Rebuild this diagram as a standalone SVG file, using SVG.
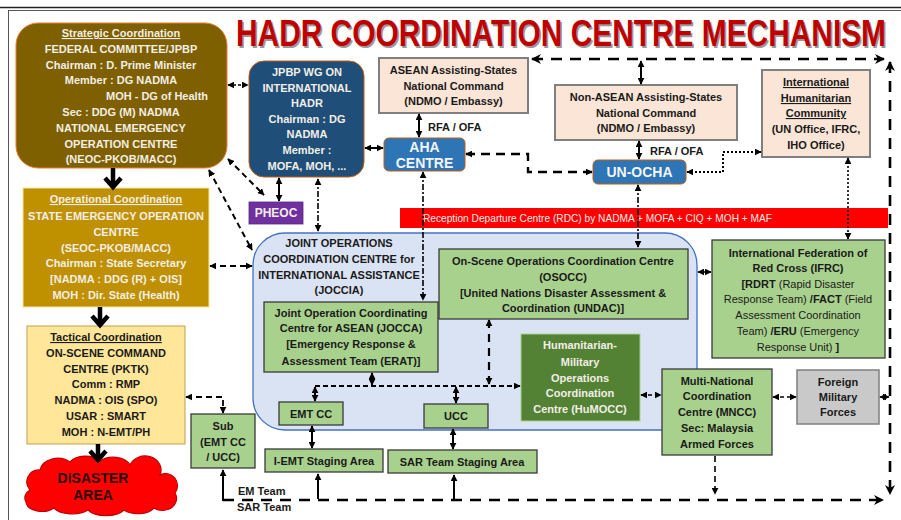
<svg xmlns="http://www.w3.org/2000/svg" width="901" height="520" viewBox="0 0 901 520">
<defs>
<style>
text{font-family:"Liberation Sans",Arial,sans-serif;font-weight:bold;font-size:11px;text-anchor:middle;fill:#1a1a1a}
.lt{fill:#F2EEE6}
.wb{fill:#F4F4F4;font-size:14px}
.u{text-decoration:underline}
.n{font-weight:normal}
.peach{fill:#FBE5D6;stroke:#7F7F7F;stroke-width:2}
.green{fill:#A9D18E;stroke:#3A3A3A;stroke-width:1.3}
.blue{fill:#2E75B6;stroke:#C55A11;stroke-width:1}
.c{fill:none;stroke:#000;stroke-width:2}
.d{stroke-dasharray:6 4}
.dd{stroke-dasharray:6 2 2 2;stroke-width:1.6}
.dt{stroke-dasharray:2 2;stroke-width:2}
.big{stroke-width:2.6;stroke-dasharray:11 8}
.thick{fill:none;stroke:#000;stroke-width:4.5}
</style>
<marker id="a" viewBox="0 0 10 10" refX="9" refY="5" markerWidth="7" markerHeight="7" markerUnits="userSpaceOnUse" orient="auto-start-reverse"><path d="M0,0 L10,5 L0,10 z" fill="#000"/></marker>
<marker id="b" viewBox="0 0 10 10" refX="9" refY="5" markerWidth="10" markerHeight="10" markerUnits="userSpaceOnUse" orient="auto-start-reverse"><path d="M0,0 L10,5 L0,10 L3,5 z" fill="#000"/></marker>
</defs>
<rect width="901" height="520" fill="#fff"/>
<line x1="0" y1="7.5" x2="901" y2="7.5" stroke="#222" stroke-width="1.5"/>
<rect x="8.5" y="10.5" width="900" height="520" fill="none" stroke="#555" stroke-width="1"/>

<g id="title">
<text transform="translate(237.5,47.5) scale(1,1.3)" x="0" y="0" style="font-size:28px;text-anchor:start;fill:#9a9a9a" textLength="650" lengthAdjust="spacingAndGlyphs">HADR COORDINATION CENTRE MECHANISM</text>
<text transform="translate(236,46) scale(1,1.3)" x="0" y="0" style="font-size:28px;text-anchor:start;fill:#C00000" textLength="650" lengthAdjust="spacingAndGlyphs">HADR COORDINATION CENTRE MECHANISM</text>
</g>

<g id="rdc-banner">
<rect x="400" y="208" width="488" height="20" fill="#FF0000"/>
<text x="423" y="222" class="n" style="text-anchor:start;fill:#FDECEA" textLength="349" lengthAdjust="spacingAndGlyphs">Reception Departure Centre (RDC) by NADMA + MOFA + CIQ + MOH + MAF</text>
</g>

<g id="joccia">
<rect x="253" y="233" width="444" height="197" rx="32" fill="#DAE3F3" stroke="#4472C4" stroke-width="1.3"/>
<text x="339" y="247">JOINT OPERATIONS</text>
<text x="339" y="263">COORDINATION CENTRE for</text>
<text x="339" y="279">INTERNATIONAL ASSISTANCE</text>
<text x="339" y="294">(JOCCIA)</text>
</g>

<g id="strategic">
<rect x="16" y="23" width="211" height="145" rx="22" fill="#7F6000" stroke="#ED7D31" stroke-width="1"/>
<text x="121" y="37" class="lt u">Strategic Coordination</text>
<text x="121" y="53" class="lt">FEDERAL COMMITTEE/JPBP</text>
<text x="121" y="69" class="lt">Chairman : D. Prime Minister</text>
<text x="121" y="84" class="lt">Member : DG NADMA</text>
<text x="157" y="100" class="lt">MOH - DG of Health</text>
<text x="121" y="116" class="lt">Sec : DDG (M) NADMA</text>
<text x="121" y="132" class="lt">NATIONAL EMERGENCY</text>
<text x="121" y="148" class="lt">OPERATION CENTRE</text>
<text x="121" y="163" class="lt">(NEOC-PKOB/MACC)</text>
</g>

<g id="jpbp-wg">
<rect x="249" y="61" width="115" height="116" rx="15" fill="#1F4E79" stroke="#C55A11" stroke-width="1"/>
<text x="307" y="76" class="lt">JPBP WG ON</text>
<text x="307" y="92" class="lt">INTERNATIONAL</text>
<text x="307" y="107" class="lt">HADR</text>
<text x="307" y="123" class="lt">Chairman : DG</text>
<text x="307" y="138" class="lt">NADMA</text>
<text x="307" y="154" class="lt">Member :</text>
<text x="307" y="170" class="lt">MOFA, MOH, ...</text>
</g>

<g id="asean">
<rect x="379" y="58" width="149" height="55" class="peach"/>
<text x="453.5" y="74">ASEAN Assisting-States</text>
<text x="453.5" y="90">National Command</text>
<text x="453.5" y="105">(NDMO / Embassy)</text>
</g>

<g id="aha">
<rect x="384" y="138" width="81" height="33" rx="5" class="blue"/>
<text x="424.5" y="152" class="wb">AHA</text>
<text x="424.5" y="168" class="wb">CENTRE</text>
</g>

<g id="non-asean">
<rect x="555" y="85" width="182" height="55" class="peach"/>
<text x="646" y="101">Non-ASEAN Assisting-States</text>
<text x="646" y="117">National Command</text>
<text x="646" y="132">(NDMO / Embassy)</text>
</g>

<g id="un-ocha">
<rect x="593" y="160" width="93" height="24" rx="5" class="blue"/>
<text x="639.5" y="177" class="wb">UN-OCHA</text>
</g>

<g id="ihc">
<rect x="762" y="70" width="108" height="87" class="peach"/>
<text x="816" y="86" class="u">International</text>
<text x="816" y="102" class="u">Humanitarian</text>
<text x="816" y="117" class="u">Community</text>
<text x="816" y="133">(UN Office, IFRC,</text>
<text x="816" y="149">IHO Office)</text>
</g>

<g id="labels">
<text x="428" y="131" style="text-anchor:start">RFA / OFA</text>
<text x="650" y="155" style="text-anchor:start">RFA / OFA</text>
<text x="238" y="495" style="text-anchor:start">EM Team</text>
<text x="237" y="511" style="text-anchor:start">SAR Team</text>
</g>

<g id="pheoc">
<rect x="249" y="202" width="54" height="22" fill="#7030A0" stroke="#5a2a80" stroke-width="0.8"/>
<text x="276" y="217" class="lt" style="font-size:12px">PHEOC</text>
</g>

<g id="operational">
<rect x="23" y="188" width="186" height="119" fill="#BF9000" stroke="#FFE699" stroke-width="1"/>
<text x="116" y="203" class="lt u">Operational Coordination</text>
<text x="116" y="220" class="lt">STATE EMERGENCY OPERATION</text>
<text x="116" y="236" class="lt">CENTRE</text>
<text x="116" y="252" class="lt">(SEOC-PKOB/MACC)</text>
<text x="116" y="267" class="lt">Chairman : State Secretary</text>
<text x="116" y="283" class="lt">[NADMA : DDG (R) + OIS]</text>
<text x="116" y="299" class="lt">MOH : Dir. State (Health)</text>
</g>

<g id="tactical">
<rect x="27" y="326" width="158" height="118" fill="#FFE699" stroke="#BFA050" stroke-width="1"/>
<text x="106" y="341" class="u">Tactical Coordination</text>
<text x="106" y="357">ON-SCENE COMMAND</text>
<text x="106" y="373">CENTRE (PKTK)</text>
<text x="106" y="388">Comm : RMP</text>
<text x="106" y="404">NADMA : OIS (SPO)</text>
<text x="106" y="420">USAR : SMART</text>
<text x="106" y="436">MOH : N-EMT/PH</text>
</g>

<g id="disaster-area">
<path d="M30,490 A12,12 0 0 1 40,470 A18,14 0 0 1 70,462 A18,12 0 0 1 100,461 A18,12 0 0 1 130,465 A16,14 0 0 1 160,475 A12,12 0 0 1 175,493 A14,12 0 0 1 154,508 A18,10 0 0 1 124,510 A20,10 0 0 1 88,510 A20,10 0 0 1 54,508 A16,10 0 0 1 26,502 A10,9 0 0 1 30,490 Z" fill="#FF0000" stroke="#C00000" stroke-width="1.2"/>
<text x="93" y="483" style="font-size:14px;fill:#2a0000">DISASTER</text>
<text x="93" y="500" style="font-size:14px;fill:#2a0000">AREA</text>
</g>

<g id="sub">
<rect x="191" y="414" width="64" height="54" class="green"/>
<text x="223" y="430">Sub</text>
<text x="223" y="446">(EMT CC</text>
<text x="223" y="461">/ UCC)</text>
</g>

<g id="jocca">
<rect x="264" y="302" width="174" height="70" class="green"/>
<text x="351" y="317">Joint Operation Coordinating</text>
<text x="351" y="332">Centre for ASEAN (JOCCA)</text>
<text x="351" y="348">[Emergency Response &amp;</text>
<text x="351" y="365">Assessment Team (ERAT)]</text>
</g>

<g id="osocc">
<rect x="439" y="249" width="249" height="70" class="green"/>
<text x="563" y="265">On-Scene Operations Coordination Centre</text>
<text x="563" y="281">(OSOCC)</text>
<text x="563" y="297">[United Nations Disaster Assessment &amp;</text>
<text x="563" y="312">Coordination (UNDAC)]</text>
</g>

<g id="humocc">
<rect x="521" y="334" width="119" height="87" fill="#548235" stroke="#A9D18E" stroke-width="1"/>
<text x="580" y="349" class="lt">Humanitarian-</text>
<text x="580" y="366" class="lt">Military</text>
<text x="580" y="382" class="lt">Operations</text>
<text x="580" y="397" class="lt">Coordination</text>
<text x="580" y="413" class="lt">Centre (HuMOCC)</text>
</g>

<g id="emt-cc">
<rect x="279" y="402" width="64" height="23" class="green"/>
<text x="311" y="418">EMT CC</text>
</g>

<g id="ucc">
<rect x="424" y="404" width="64" height="24" class="green"/>
<text x="456" y="420">UCC</text>
</g>

<g id="iemt-staging">
<rect x="265" y="449" width="118" height="23" class="green"/>
<text x="324" y="465">I-EMT Staging Area</text>
</g>

<g id="sar-staging">
<rect x="388" y="450" width="149" height="23" class="green"/>
<text x="462" y="466">SAR Team Staging Area</text>
</g>

<g id="ifrc">
<rect x="712" y="240" width="173" height="118" class="green"/>
<text x="798" y="257">International Federation of</text>
<text x="798" y="272">Red Cross (IFRC)</text>
<text x="798" y="288"><tspan>[RDRT</tspan><tspan class="n"> (Rapid Disaster</tspan></text>
<text x="798" y="303"><tspan class="n">Response Team) </tspan><tspan>/FACT</tspan><tspan class="n"> (Field</tspan></text>
<text x="798" y="319" class="n">Assessment Coordination</text>
<text x="798" y="335"><tspan class="n">Team) </tspan><tspan>/ERU</tspan><tspan class="n"> (Emergency</tspan></text>
<text x="798" y="351"><tspan class="n">Response Unit) </tspan><tspan>]</tspan></text>
</g>

<g id="mncc">
<rect x="662" y="369" width="110" height="86" class="green"/>
<text x="717" y="385">Multi-National</text>
<text x="717" y="400">Coordination</text>
<text x="717" y="416">Centre (MNCC)</text>
<text x="717" y="432">Sec: Malaysia</text>
<text x="717" y="448">Armed Forces</text>
</g>

<g id="foreign">
<rect x="797" y="370" width="82" height="54" fill="#C9C9C9" stroke="#7F7F7F" stroke-width="1.5"/>
<text x="838" y="386">Foreign</text>
<text x="838" y="401">Military</text>
<text x="838" y="416">Forces</text>
</g>

<g id="connectors">
<path class="thick" d="M113,168 V186 M105,178 L113,187 L121,178"/>
<path class="thick" d="M100,307 V324 M92,316 L100,325 L108,316"/>
<path class="thick" d="M98,444 V459 M90,451 L98,460 L106,451"/>

<path class="c big" d="M532,59 H884" marker-start="url(#b)" marker-end="url(#b)"/>
<path class="c big" d="M890,62 V494" marker-start="url(#b)" marker-end="url(#b)"/>
<path class="c big" d="M223,500 H883" marker-end="url(#b)"/>
<path class="c" d="M223,501 V470" marker-end="url(#a)"/>
<path class="c" d="M318,499 V474" marker-end="url(#a)"/>
<path class="c" d="M454,499 V475" marker-end="url(#a)"/>
<path class="c d" d="M715,456 V494" style="stroke-width:1.6" marker-end="url(#a)"/>

<path class="c d" d="M228,85 H248" style="stroke-width:1.5;stroke-dasharray:3 2" marker-start="url(#a)" marker-end="url(#a)"/>
<path class="c" d="M365,148 H383" marker-start="url(#a)" marker-end="url(#a)"/>
<path class="c" d="M419,114 V137" marker-start="url(#a)" marker-end="url(#a)"/>
<path class="c d" d="M466,154 H528 V172 H592" style="stroke-width:2.4;stroke-dasharray:9 6" marker-start="url(#a)" marker-end="url(#a)"/>
<path class="c" d="M641,61 V84" marker-start="url(#a)" marker-end="url(#a)"/>
<path class="c" d="M639,141 V159" marker-start="url(#a)" marker-end="url(#a)"/>
<path class="c dt" d="M687,172 H723 V152 H761" marker-start="url(#a)" marker-end="url(#a)"/>
<path class="c dt" d="M848,158 V239" style="stroke-width:1.6" marker-start="url(#a)" marker-end="url(#a)"/>
<path class="c dd" d="M423,172 V300" marker-start="url(#a)" marker-end="url(#a)"/>
<path class="c dd" d="M638,185 V247" marker-start="url(#a)" marker-end="url(#a)"/>
<path class="c dd" d="M318,179 V231" marker-start="url(#a)" marker-end="url(#a)"/>
<path class="c" d="M279,178 V201" marker-start="url(#a)" marker-end="url(#a)"/>
<path class="c d" d="M228,159 L264,195" marker-start="url(#a)" marker-end="url(#a)"/>
<path class="c d" d="M209,170 L252,250" marker-start="url(#a)" marker-end="url(#a)"/>
<path class="c d" d="M210,266 H252" style="stroke-width:1.8" marker-start="url(#a)" marker-end="url(#a)"/>
<path class="c d" d="M186,397 H223 V413" style="stroke-width:1.8" marker-start="url(#a)" marker-end="url(#a)"/>

<path class="c d" d="M489,320 V384" style="stroke-width:2.2;stroke-dasharray:8 6" marker-start="url(#a)" marker-end="url(#a)"/>
<path class="c d" d="M315,386 H520" style="stroke-width:1.8;stroke-dasharray:5 3" marker-end="url(#a)"/>
<path class="c" d="M372,373 V385" marker-start="url(#a)" marker-end="url(#a)"/>
<path class="c" d="M315,387 V401" marker-start="url(#a)" marker-end="url(#a)"/>
<path class="c" d="M312,426 V448" marker-start="url(#a)" marker-end="url(#a)"/>
<path class="c" d="M456,387 V403" marker-start="url(#a)" marker-end="url(#a)"/>
<path class="c" d="M453,429 V449" marker-start="url(#a)" marker-end="url(#a)"/>
<path class="c" d="M698,272 H711" style="stroke-width:1.5" marker-start="url(#a)" marker-end="url(#a)"/>
<path class="c d" d="M641,395 H661" style="stroke-width:1.6;stroke-dasharray:4 3" marker-start="url(#a)" marker-end="url(#a)"/>
<path class="c d" d="M773,397 H796" style="stroke-width:1.6;stroke-dasharray:4 3" marker-start="url(#a)" marker-end="url(#a)"/>
<path class="c" d="M880,397 H889" style="stroke-width:1.5" marker-start="url(#a)" marker-end="url(#a)"/>
</g>
</svg>
